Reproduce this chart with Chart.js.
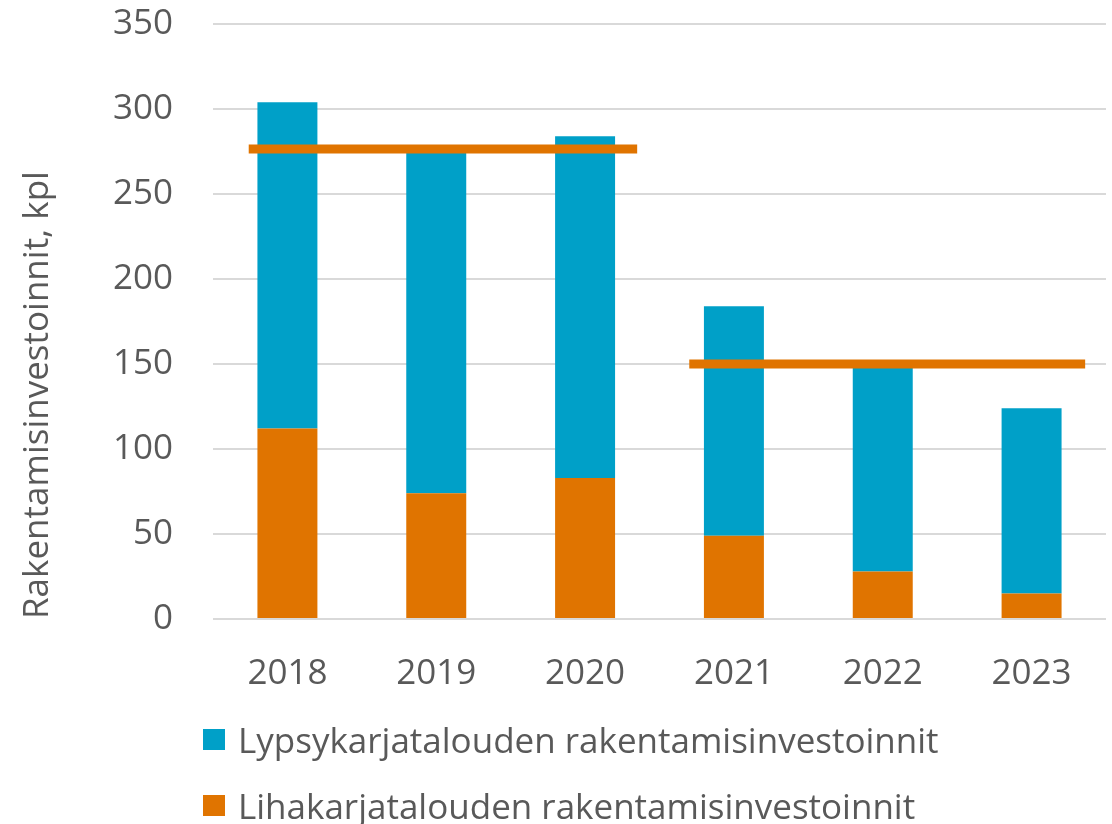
<!DOCTYPE html>
<html lang="fi">
<head>
    <meta charset="utf-8" />
    <title>Rakentamisinvestoinnit</title>
    <style>
        body {
            margin: 0;
            background: #fff;
            font-family: "Open Sans", sans-serif;
        }
        #wrap {
            position: relative;
            width: 1112px;
            height: 824px;
        }
        #legend {
            position: absolute;
            left: 203px;
            top: 718px;
            margin: 0;
            padding: 0;
            list-style: none;
        }
        #legend li {
            display: flex;
            align-items: center;
            height: 42px;
            margin-bottom: 24px;
            font-size: 35px;
            color: #595959;
        }
        #legend .box {
            width: 22px;
            height: 21px;
            margin-right: 13px;
        }
    </style>
</head>
<body>
    <div id="wrap">
        <canvas id="chart" width="1112" height="824"></canvas>
        <ul id="legend"></ul>
    </div>
    <script src="https://cdn.jsdelivr.net/npm/chart.js"></script>
    <script>
        // vuodet ja sarjat (kpl)
        const years = ['2018', '2019', '2020', '2021', '2022', '2023'];
        const lihaValues = [112, 74, 83, 49, 28, 15];
        const lypsyValues = [192, 203, 201, 135, 124, 109];

        // vaakaviivat: taso ja alku/loppu luokka-akselin yksiköissä
        const levelValues = [276.5, 150];
        const levelFrom = [-0.26, 2.70];
        const levelTo = [2.35, 5.36];

        const blue = '#00A0C8';
        const orange = '#E07400';
        const textColor = '#595959';

        Chart.defaults.font.family = '"Open Sans", sans-serif';
        Chart.defaults.font.size = 35;
        Chart.defaults.color = textColor;

        var levelSets = levelValues.map((v, i) => ({
            type: 'line',
            label: 'Taso ' + (i + 1),
            xAxisID: 'xl',
            stack: 'level' + i,
            data: [{ x: levelFrom[i], y: v }, { x: levelTo[i], y: v }],
            borderColor: orange,
            borderWidth: 9,
            borderCapStyle: 'butt',
            pointRadius: 0,
            fill: false,
            order: 0
        }));

        var ctx = document.getElementById('chart').getContext('2d');
        var myChart = new Chart(ctx, {
            type: 'bar',
            data: {
                labels: years,
                datasets: [{
                    label: 'Lypsykarjatalouden rakentamisinvestoinnit',
                    data: lypsyValues,
                    backgroundColor: blue,
                    stack: 'bars',
                    order: 2
                }, {
                    label: 'Lihakarjatalouden rakentamisinvestoinnit',
                    data: lihaValues,
                    backgroundColor: orange,
                    stack: 'bars',
                    order: 1
                }].concat(levelSets)
            },
            options: {
                responsive: false,
                animation: false,
                layout: {
                    padding: { left: 17, right: 6, top: 24, bottom: 95 }
                },
                datasets: {
                    bar: { grouped: false, barPercentage: 0.403, categoryPercentage: 1 }
                },
                plugins: {
                    legend: { display: false },
                    tooltip: { enabled: false }
                },
                scales: {
                    x: {
                        stacked: true,
                        grid: { display: false, drawTicks: false },
                        border: { display: false },
                        ticks: { padding: 34 }
                    },
                    xl: {
                        type: 'linear',
                        display: false,
                        offset: false,
                        min: -0.5,
                        max: 5.5
                    },
                    y: {
                        stacked: true,
                        min: 0,
                        max: 350,
                        border: { display: false },
                        grid: { color: '#D9D9D9', lineWidth: 2, drawTicks: false },
                        ticks: { stepSize: 50, padding: 40 },
                        title: {
                            display: true,
                            text: 'Rakentamisinvestoinnit, kpl',
                            align: 'start',
                            padding: { top: 0, bottom: 0 }
                        },
                        afterFit: function (scale) {
                            scale.width = 196;
                            scale.paddingTop = 0;
                            scale.paddingBottom = 0;
                        }
                    }
                }
            }
        });

        // legenda kahdelle pylvässarjalle, järjestyksessä sininen, oranssi
        var legendEl = document.getElementById('legend');
        myChart.data.datasets.slice(0, 2).forEach(ds => {
            var li = document.createElement('li');
            var box = document.createElement('span');
            box.className = 'box';
            box.style.background = ds.backgroundColor;
            li.appendChild(box);
            li.appendChild(document.createTextNode(ds.label));
            legendEl.appendChild(li);
        });
    </script>
</body>
</html>
